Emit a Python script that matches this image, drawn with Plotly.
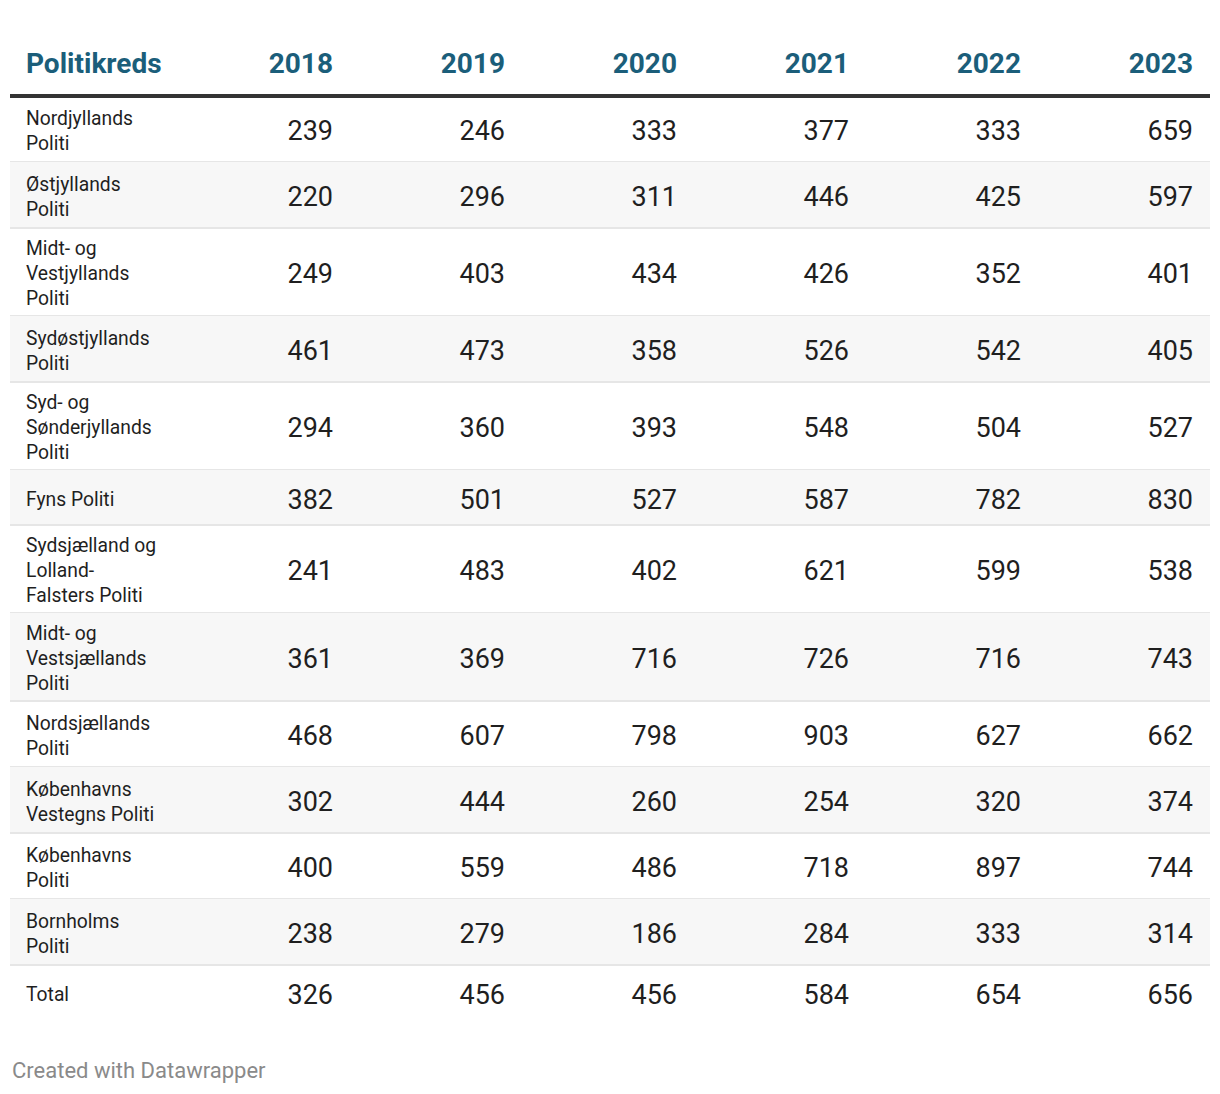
import plotly.graph_objects as go

# ---------------- data ----------------
header_first = "Politikreds"
years = ["2018", "2019", "2020", "2021", "2022", "2023"]
kredse = [
    "Nordjyllands<br>Politi",
    "Østjyllands<br>Politi",
    "Midt- og<br>Vestjyllands<br>Politi",
    "Sydøstjyllands<br>Politi",
    "Syd- og<br>Sønderjyllands<br>Politi",
    "Fyns Politi",
    "Sydsjælland og<br>Lolland-<br>Falsters Politi",
    "Midt- og<br>Vestsjællands<br>Politi",
    "Nordsjællands<br>Politi",
    "Københavns<br>Vestegns Politi",
    "Københavns<br>Politi",
    "Bornholms<br>Politi",
    "Total",
]
v2018 = [239, 220, 249, 461, 294, 382, 241, 361, 468, 302, 400, 238, 326]
v2019 = [246, 296, 403, 473, 360, 501, 483, 369, 607, 444, 559, 279, 456]
v2020 = [333, 311, 434, 358, 393, 527, 402, 716, 798, 260, 486, 186, 456]
v2021 = [377, 446, 426, 526, 548, 587, 621, 726, 903, 254, 718, 284, 584]
v2022 = [333, 425, 352, 542, 504, 782, 599, 716, 627, 320, 897, 333, 654]
v2023 = [659, 597, 401, 405, 527, 830, 538, 743, 662, 374, 744, 314, 656]
columns = [v2018, v2019, v2020, v2021, v2022, v2023]
footer = "Created with Datawrapper"

# ---------------- layout constants ----------------
W, H = 1220, 1094
PAGE_OFF = 8          # default page body margin in the written html
FONT = "Roboto"
HEAD_COLOR = "#1b5e7a"
TEXT_COLOR = "#1f1f1f"
STRIPE = "#f7f7f7"
SEP = "#e6e6e6"
TABLE_L, TABLE_R = 10, 1210
FIRST_W = 167
COL_W = 172
PAD_X = 16
HEAD_Y = 65.5
RULE_Y = 96
LINE_H = 22
NUM_H = 33
PAD_Y = 11
LABEL_DY = 3.5
NUM_DY = 4.5

# compute row geometry
tops, bottoms, centers = [], [], []
y = RULE_Y
for lab in kredse:
    n = lab.count("<br>") + 1
    h = max(n * LINE_H, NUM_H) + 2 * PAD_Y
    tops.append(y)
    bottoms.append(y + h)
    centers.append(y + h / 2)
    y += h

col_right = [TABLE_L + FIRST_W + COL_W * (i + 1) - PAD_X for i in range(len(years))]
first_x = TABLE_L + PAD_X

fig = go.Figure()

# header
fig.add_trace(go.Scatter(
    x=[first_x], y=[HEAD_Y], mode="text", text=[f"<b>{header_first}</b>"],
    textposition="middle right",
    textfont=dict(family=FONT, size=28, color=HEAD_COLOR),
    hoverinfo="skip", showlegend=False))
fig.add_trace(go.Scatter(
    x=col_right, y=[HEAD_Y] * len(years), mode="text",
    text=[f"<b>{yv}</b>" for yv in years],
    textposition="middle left",
    textfont=dict(family=FONT, size=28, color=HEAD_COLOR),
    hoverinfo="skip", showlegend=False))

# first column labels
fig.add_trace(go.Scatter(
    x=[first_x] * len(kredse), y=[c + LABEL_DY for c in centers], mode="text", text=kredse,
    textposition="middle right",
    textfont=dict(family=FONT, size=19.3, color=TEXT_COLOR),
    hoverinfo="skip", showlegend=False))

# value columns
for xr, vals in zip(col_right, columns):
    fig.add_trace(go.Scatter(
        x=[xr] * len(vals), y=[c + NUM_DY for c in centers], mode="text",
        text=[str(v) for v in vals],
        textposition="middle left",
        textfont=dict(family=FONT, size=27, color=TEXT_COLOR),
        hoverinfo="skip", showlegend=False))

shapes = []
for i, (t, b) in enumerate(zip(tops, bottoms)):
    if i % 2 == 1:
        shapes.append(dict(type="rect", xref="x", yref="y", x0=TABLE_L, x1=TABLE_R,
                           y0=t, y1=b, fillcolor=STRIPE, line=dict(width=0), layer="below"))
    if i < len(kredse) - 1:
        shapes.append(dict(type="line", xref="x", yref="y", x0=TABLE_L, x1=TABLE_R,
                           y0=b, y1=b, line=dict(color=SEP, width=2), layer="below"))
shapes.append(dict(type="line", xref="x", yref="y", x0=TABLE_L, x1=TABLE_R,
                   y0=RULE_Y, y1=RULE_Y, line=dict(color="#333333", width=4)))

fig.update_layout(
    width=W, height=H,
    margin=dict(l=0, r=0, t=0, b=0),
    paper_bgcolor="white", plot_bgcolor="white",
    xaxis=dict(range=[PAGE_OFF, W + PAGE_OFF], visible=False, fixedrange=True),
    yaxis=dict(range=[H + PAGE_OFF, PAGE_OFF], visible=False, fixedrange=True),
    shapes=shapes,
    annotations=[dict(text=footer, xref="x", yref="y", x=10, y=1070,
                      xanchor="left", yanchor="middle", showarrow=False,
                      font=dict(family=FONT, size=22, color="#8a8a8a"))],
    showlegend=False,
)

fig.write_html("out.html", config={"displayModeBar": False})
